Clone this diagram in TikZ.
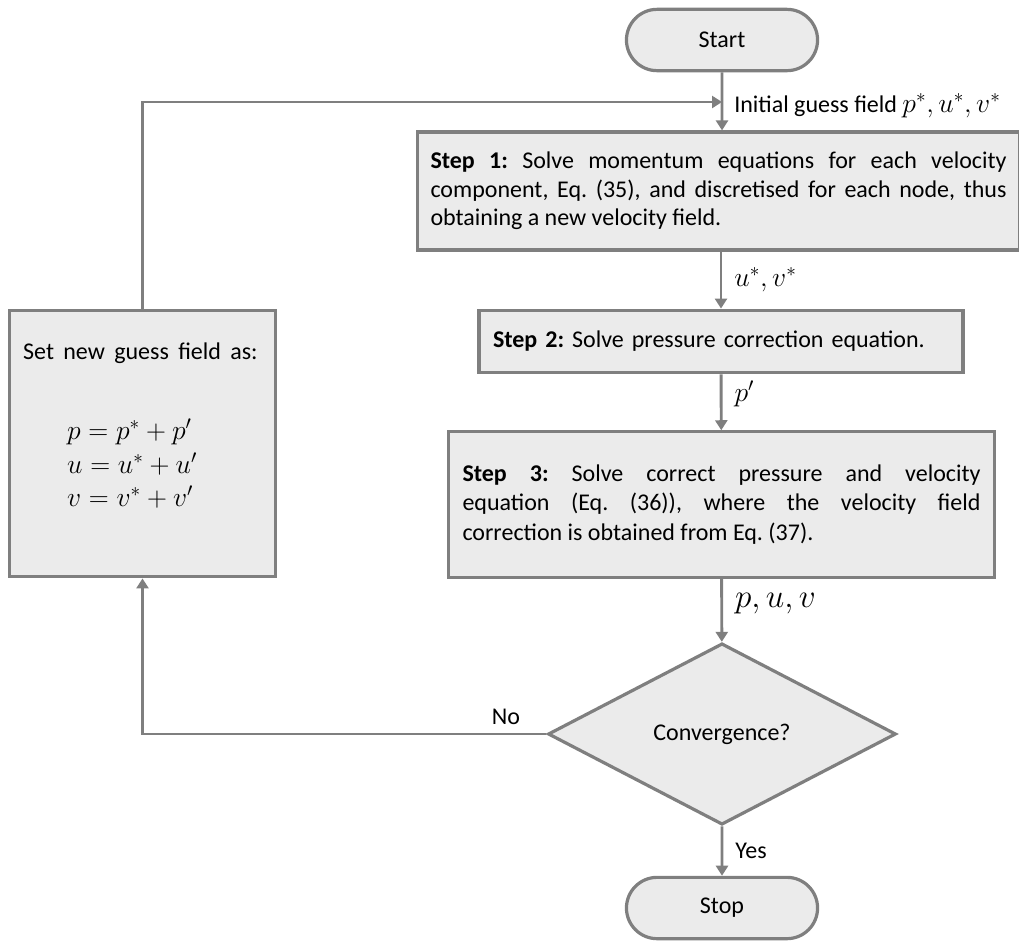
\documentclass[tikz,border=0pt]{standalone}
\usepackage{fontspec}
\setmainfont{Carlito}
\frenchspacing
\usetikzlibrary{shapes.geometric, shapes.misc, arrows.meta, positioning}
\definecolor{linegray}{HTML}{7F7F7F}
\definecolor{boxfill}{HTML}{EBEBEB}

\begin{document}
\begin{tikzpicture}[
    x=0.75pt, y=-0.75pt,
    every node/.style={font=\fontsize{18}{21.5}\selectfont},
    term/.style={rounded rectangle, draw=linegray, fill=boxfill, line width=2.4pt, minimum width=150pt, minimum height=46pt},
    stepbox/.style={rectangle, draw=linegray, fill=boxfill, line width=2.4pt, align=justify, inner xsep=10pt},
    decision/.style={diamond, draw=linegray, fill=boxfill, line width=2.4pt, minimum width=261pt, minimum height=136pt, inner sep=0pt},
    arrow/.style={-{Triangle[width=9pt, length=7.5pt]}, draw=linegray, line width=2.2pt},
    lbl/.style={right=9pt, inner sep=0pt},
    eq/.style={font=\fontsize{21}{25}\selectfont}
]
\useasboundingbox (0,0) rectangle (1019,943);

% Main column
\node[term] (start) at (722,40) {Start};
\coordinate (merge) at (722,102);
\node[stepbox, text width=432pt, minimum width=452pt, minimum height=88.5pt] (step1) at (718.5,191)
    {\textbf{Step 1:} Solve momentum equations for each velocity\linebreak component, Eq. (35), and discretised for each node, thus\linebreak obtaining a new velocity field.};
\node[stepbox, text width=342pt, minimum width=363pt, minimum height=47pt, align=left] (step2) at (721,341.5)
    {\textbf{Step 2:} Solve pressure correction equation.};
\node[stepbox, text width=388.5pt, minimum width=410pt, minimum height=109pt, font=\fontsize{18}{22}\selectfont] (step3) at (721.5,504.5)
    {\textbf{Step 3:} Solve correct pressure and velocity\linebreak equation (Eq. (36)), where the velocity field\linebreak correction is obtained from Eq. (37).};
\node[decision] (conv) at (722,734) {Convergence?};
\node[term] (stop) at (722,908) {Stop};

% Update box
\node[stepbox, eq, text width=179pt, minimum width=199pt, minimum height=200pt, align=left] (guess) at (142.5,443.5)
    {{\fontsize{18}{21.5}\selectfont Set new guess field as:}\\[35pt]
     \hspace*{33pt}$p = p^{*} + p'$\\
     \hspace*{33pt}$u = u^{*} + u'$\\
     \hspace*{33pt}$v = v^{*} + v'$\\[3pt]\mbox{}};

% Connections
\draw[arrow] (start) -- (start |- step1.north);
\node[lbl, yshift=-3pt] (init) at (merge) {Initial guess field {\fontsize{20}{24}\selectfont$p^{*}, u^{*}, v^{*}$}};
\draw[arrow] (step1.south -| step2) -- node[lbl, eq]{$u^{*}, v^{*}$} (step2);
\draw[arrow] (step2) -- node[lbl, eq, pos=0.35]{$p'$} (step3);
\draw[arrow] (step3) -- node[lbl, font=\fontsize{26}{30}\selectfont, pos=0.4]{$p, u, v$} (conv);
\draw[arrow] (conv) -- node[lbl]{Yes} (stop);
\draw[arrow] (conv.west) -- node[above=6pt, pos=0.1, inner sep=0pt]{No} (conv.west -| guess) -- (guess);
\draw[arrow] (guess) |- (merge);

\end{tikzpicture}
\end{document}
